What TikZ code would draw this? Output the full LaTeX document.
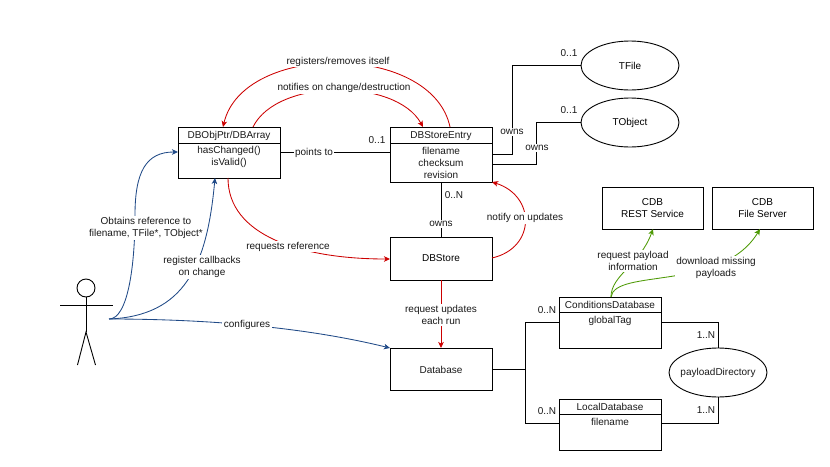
\documentclass[tikz,border=0pt]{standalone}
\usepackage{fontspec}
\setmainfont{Liberation Sans}
\usetikzlibrary{arrows.meta,shapes.geometric}
\definecolor{cred}{HTML}{CC0000}
\definecolor{cblue}{HTML}{204A87}
\definecolor{cgreen}{HTML}{4E9A06}
\tikzset{
  txt/.style={font=\fontsize{10}{12}\selectfont,align=center,inner sep=0pt,text=black!90},
  lbl/.style={txt,fill=white,inner xsep=1.5pt,inner ysep=1pt},
  box/.style={draw=black,line width=0.9pt,rectangle,minimum width=102pt,inner sep=0pt,outer sep=0pt,font=\fontsize{10}{12}\selectfont,align=center},
  ell/.style={draw=black,line width=0.9pt,ellipse,minimum width=98pt,minimum height=49pt,inner sep=0pt,outer sep=0pt,font=\fontsize{10}{12}\selectfont},
  conn/.style={draw=black,line width=0.9pt},
  tip/.style={-{Stealth[length=6pt,width=5.5pt,inset=1.5pt]}},
  redc/.style={draw=cred,line width=0.85pt,tip},
  bluec/.style={draw=cblue,line width=0.85pt,tip},
  greenc/.style={draw=cgreen,line width=0.85pt,tip},
}
\begin{document}
\begin{tikzpicture}[x=1pt,y=-1pt]
\useasboundingbox (0,0) rectangle (830,466);
% boxes
\node[box,minimum height=51pt] (ptr) at (229,152.5) {};
\node[box,minimum height=55pt] (entry) at (441,154.5) {};
\node[box,minimum height=43pt] (store) at (441,258.5) {DBStore};
\node[box,minimum height=42pt] (database) at (441,369) {};
\node[txt] (databaset) at (441,369.5) {Database};
\node[box,minimum height=51pt] (cond) at (610,322.5) {};
\node[box,minimum height=51pt] (local) at (610,424.5) {};
\node[box,minimum width=101pt,minimum height=42pt] (rest) at (652.5,208) {CDB\\REST Service};
\node[box,minimum width=101pt,minimum height=42pt] (fileserver) at (762.5,208) {CDB\\File Server};
\node[ell] (tfile) at (630,65.5) {TFile};
\node[ell] (tobject) at (630,122.5) {TObject};
\node[ell] (paydir) at (718,372.5) {};
\node[txt] (paydirt) at (718,372.5) {payloadDirectory};
% compartments
\coordinate (ptrdl) at (178,143); \coordinate (ptrdr) at (280,143);
\coordinate (entdl) at (390,143); \coordinate (entdr) at (492,143);
\coordinate (conddl) at (559,312); \coordinate (conddr) at (661,312);
\coordinate (locdl) at (559,414); \coordinate (locdr) at (661,414);
\draw[conn] (ptrdl) -- (ptrdr);
\draw[conn] (entdl) -- (entdr);
\draw[conn] (conddl) -- (conddr);
\draw[conn] (locdl) -- (locdr);
\node[txt] (ptrt) at (229,136) {DBObjPtr/DBArray};
\node[txt] (ptrb) at (229,157) {hasChanged()\\isValid()};
\node[txt] (entt) at (441,136) {DBStoreEntry};
\node[txt] (entb) at (441,163) {filename\\checksum\\revision};
\node[txt] (condt) at (610,305) {ConditionsDatabase};
\node[txt] (condb) at (610,320.5) {globalTag};
\node[txt] (loct) at (610,406.5) {LocalDatabase};
\node[txt] (locb) at (610,422) {filename};
% actor
\node[draw=black,line width=0.9pt,circle,minimum size=18pt,inner sep=0pt,outer sep=0pt] (head) at (86,288) {};
\coordinate (hip) at (86,332);
\coordinate (armL) at (60,305); \coordinate (armR) at (113,305);
\coordinate (legL) at (77.5,365); \coordinate (legR) at (95.5,365);
\coordinate (hand) at (109,319);
\draw[conn] (head.south) -- (hip);
\draw[conn] (armL) -- (armR);
\draw[conn] (legL) -- (hip) -- (legR);
% black connectors
\coordinate (ptrE) at (280,152.5); \coordinate (entW) at (390,152.5);
\draw[conn] (ptrE) -- (entW);
\draw[conn] (entry.south) -- (store.north);
\coordinate (entE1) at (492,154); \coordinate (entE2) at (492,164);
\draw[conn] (entE1) -- (512,154) -- (512,65.5) -- (tfile.west);
\draw[conn] (entE2) -- (536,164) -- (536,122.5) -- (tobject.west);
\coordinate (condW) at (559,322); \coordinate (locW) at (559,423);
\coordinate (condE) at (661,322); \coordinate (locE) at (661,423);
\draw[conn] (database.east) -- (525,369);
\draw[conn] (condW) -- (525,322) -- (525,423) -- (locW);
\draw[conn] (condE) -- (718,322) -- (paydir.north);
\draw[conn] (locE) -- (718,423) -- (paydir.south);
% red connectors
\coordinate (entN1) at (450,127); \coordinate (ptrN1) at (223,127);
\coordinate (ptrN2) at (253,127); \coordinate (entN2) at (423,127);
\coordinate (ptrS1) at (228,178); \coordinate (storeW) at (390,259);
\coordinate (storeE) at (492,258); \coordinate (entSE) at (492,182);
\draw[redc] (entN1) .. controls (432,42) and (243,42) .. (ptrN1);
\draw[redc] (ptrN2) .. controls (277,78) and (396,78) .. (entN2);
\draw[redc] (ptrS1) .. controls (228,235) and (300,259) .. (storeW);
\draw[redc] (storeE) .. controls (536,248) and (536,196) .. (entSE);
\draw[redc] (store.south) -- (database.north);
% blue connectors
\coordinate (ptrW) at (178,152); \coordinate (ptrS2) at (215,178); \coordinate (dbNW) at (390,348);
\coordinate (bluemid) at (135,215);
\draw[bluec] (hand) .. controls (128,319) and (135,265) .. (bluemid) .. controls (135,172) and (146,152) .. (ptrW);
\draw[bluec] (hand) .. controls (185,316) and (207,265) .. (ptrS2);
\draw[bluec] (hand) .. controls (200,319) and (300,326) .. (dbNW);
% green connectors
\coordinate (condN) at (611,297); \coordinate (restS) at (653,229); \coordinate (fileS) at (760,229);
\draw[greenc] (condN) .. controls (611,275) and (640,265) .. (restS);
\draw[greenc] (condN) .. controls (615,268) and (722,292) .. (fileS);
% labels
\node[lbl] (l1) at (338,61.5) {registers/removes itself};
\node[lbl] (l2) at (344,88) {notifies on change/destruction};
\node[lbl] (l3) at (314,153) {points to};
\node[lbl] (l4) at (146,228) {Obtains reference to\\filename, TFile*, TObject*};
\node[lbl] (l5) at (202,267) {register callbacks\\on change};
\node[lbl] (l6) at (288,246.5) {requests reference};
\node[lbl] (l7) at (247,325) {configures};
\node[lbl] (l8) at (441,224) {owns};
\node[lbl] (l9) at (525,218) {notify on updates};
\node[lbl] (l10) at (441,315) {request updates\\each run};
\node[lbl] (l11) at (512,132) {owns};
\node[lbl] (l12) at (537,148) {owns};
\node[lbl] (l13) at (633,261) {request payload\\information};
\node[lbl] (l14) at (716,267.5) {download missing\\payloads};
% multiplicities
\node[txt] (m1) at (377,140.5) {0..1};
\node[txt] (m2) at (454,195) {0..N};
\node[txt] (m3) at (569,53.5) {0..1};
\node[txt] (m4) at (569,110) {0..1};
\node[txt] (m5) at (547,310) {0..N};
\node[txt] (m6) at (547,411.5) {0..N};
\node[txt] (m7) at (706,335.5) {1..N};
\node[txt] (m8) at (706,410) {1..N};
\end{tikzpicture}
\end{document}
